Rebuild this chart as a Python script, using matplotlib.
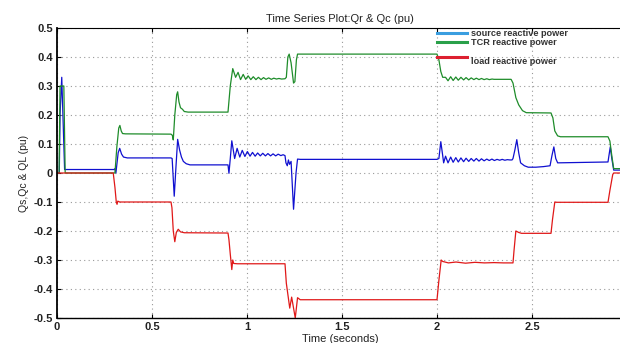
import matplotlib
matplotlib.use("Agg")
import matplotlib.pyplot as plt
from matplotlib.lines import Line2D

# ---------------- data ----------------
t_source = [0, 0.012, 0.016, 0.025, 0.04, 0.045, 0.30, 0.305, 0.31, 0.322, 0.33, 0.34, 0.35, 0.37,
            0.60, 0.606, 0.617, 0.626, 0.635, 0.645, 0.655, 0.665, 0.68, 0.70,
            0.90, 0.905, 0.912, 0.92,
            0.935, 0.948, 0.962, 0.975, 0.989, 1.002, 1.016, 1.029, 1.043, 1.056, 1.07, 1.083,
            1.097, 1.11, 1.124, 1.137, 1.151, 1.164, 1.178, 1.19, 1.2,
            1.205, 1.212, 1.218, 1.224, 1.232, 1.245, 1.258, 1.266, 1.28,
            2.0, 2.01, 2.02, 2.03, 2.035,
            2.045, 2.058, 2.072, 2.085, 2.099, 2.112, 2.126, 2.14, 2.153, 2.167, 2.18, 2.194,
            2.207, 2.221, 2.234, 2.248, 2.262, 2.275, 2.289, 2.302, 2.316, 2.33, 2.343, 2.357,
            2.37, 2.384, 2.395,
            2.40, 2.41, 2.42, 2.43, 2.44, 2.46, 2.48, 2.52, 2.56, 2.595,
            2.605, 2.615, 2.625, 2.635, 2.90, 2.905, 2.912, 2.92, 2.93, 2.97]
q_source = [0, 0, 0.2, 0.33, 0.012, 0.012, 0.012, 0.015, 0.0, 0.07, 0.085, 0.065, 0.055, 0.052,
            0.052, 0.05, -0.08, 0.02, 0.116, 0.08, 0.055, 0.04, 0.032, 0.028,
            0.028, -0.001, 0.05, 0.111,
            0.05, 0.085, 0.055, 0.078, 0.057, 0.074, 0.058, 0.071, 0.058, 0.069, 0.059, 0.068,
            0.059, 0.067, 0.059, 0.066, 0.059, 0.065, 0.06, 0.063, 0.06,
            0.035, 0.025, 0.045, 0.03, 0.04, -0.125, 0.0, 0.048, 0.047,
            0.047, 0.05, 0.108, 0.06, 0.035,
            0.058, 0.035, 0.055, 0.037, 0.053, 0.038, 0.052, 0.039, 0.051, 0.04, 0.05, 0.041,
            0.05, 0.041, 0.049, 0.042, 0.048, 0.043, 0.048, 0.043, 0.047, 0.044, 0.047, 0.044,
            0.046, 0.045, 0.045,
            0.05, 0.08, 0.115, 0.07, 0.035, 0.025, 0.02, 0.02, 0.022, 0.025,
            0.06, 0.09, 0.05, 0.035, 0.038, 0.06, 0.09, 0.05, 0.01, 0.01]

t_tcr = [0, 0.011, 0.016, 0.036, 0.043, 0.305, 0.315, 0.325, 0.331, 0.338, 0.345, 0.36,
         0.60, 0.607, 0.612, 0.62, 0.63, 0.635, 0.642, 0.65, 0.66, 0.67, 0.69,
         0.90, 0.912, 0.925,
         0.94, 0.953, 0.966, 0.98, 0.993, 1.006, 1.02, 1.033, 1.047, 1.06, 1.074, 1.087,
         1.10, 1.114, 1.128, 1.141, 1.155, 1.168, 1.182, 1.2,
         1.207, 1.215, 1.222, 1.232, 1.245, 1.252, 1.26, 1.266, 1.28,
         2.0, 2.01, 2.02, 2.03,
         2.045, 2.058, 2.072, 2.085, 2.099, 2.112, 2.126, 2.14, 2.153, 2.167, 2.18, 2.194,
         2.207, 2.221, 2.234, 2.248, 2.262, 2.275, 2.29, 2.30, 2.39,
         2.40, 2.415, 2.43, 2.45, 2.47, 2.60, 2.61, 2.62, 2.635, 2.65,
         2.90, 2.91, 2.92, 2.93, 2.97]
q_tcr = [0, 0, 0.30, 0.30, 0, 0, 0.09, 0.155, 0.164, 0.145, 0.136, 0.135,
         0.134, 0.13, 0.114, 0.2, 0.27, 0.28, 0.245, 0.225, 0.22, 0.212, 0.21,
         0.21, 0.30, 0.36,
         0.33, 0.347, 0.322, 0.34, 0.323, 0.335, 0.322, 0.332, 0.322, 0.33, 0.322, 0.329,
         0.323, 0.328, 0.323, 0.327, 0.324, 0.326, 0.324, 0.325,
         0.33, 0.40, 0.41, 0.38, 0.31, 0.315, 0.39, 0.41, 0.41,
         0.41, 0.39, 0.35, 0.33,
         0.33, 0.318, 0.332, 0.319, 0.331, 0.32, 0.33, 0.321, 0.329, 0.321, 0.328, 0.322,
         0.327, 0.322, 0.326, 0.322, 0.325, 0.322, 0.324, 0.323, 0.323,
         0.31, 0.26, 0.235, 0.215, 0.208, 0.207, 0.19, 0.145, 0.128, 0.125,
         0.125, 0.11, 0.06, 0.015, 0.015]

t_load = [0, 0.296, 0.305, 0.312, 0.316, 0.32, 0.33,
          0.60, 0.605, 0.612, 0.62, 0.628, 0.638, 0.65, 0.67,
          0.90, 0.905, 0.912, 0.92, 0.925, 0.93, 0.95,
          1.2, 1.207, 1.225, 1.235, 1.254, 1.266, 1.28,
          2.0, 2.01, 2.022, 2.03, 2.06, 2.1, 2.15, 2.2, 2.25, 2.3, 2.35, 2.4,
          2.405, 2.415, 2.43, 2.445, 2.6, 2.608, 2.62, 2.63,
          2.90, 2.91, 2.925, 2.93, 2.97]
q_load = [0, 0, -0.05, -0.1, -0.108, -0.097, -0.1,
          -0.1, -0.12, -0.2, -0.237, -0.205, -0.194, -0.203, -0.206,
          -0.207, -0.23, -0.28, -0.333, -0.30, -0.312, -0.313,
          -0.313, -0.38, -0.466, -0.428, -0.5, -0.43, -0.437,
          -0.437, -0.37, -0.30, -0.305, -0.31, -0.307, -0.311, -0.308, -0.31, -0.309, -0.31, -0.31,
          -0.27, -0.2, -0.205, -0.208, -0.208, -0.16, -0.1, -0.101,
          -0.101, -0.06, -0.005, 0.0, 0.0]

legend_labels = ["source reactive power", "TCR reactive power", "\nload reactive power"]
x_ticks = [0, 0.5, 1, 1.5, 2, 2.5]
x_ticklabels = ["0", "0.5", "1", "1.5", "2", "2.5"]
y_ticks = [0.5, 0.4, 0.3, 0.2, 0.1, 0, -0.1, -0.2, -0.3, -0.4, -0.5]
y_ticklabels = ["0.5", "0.4", "0.3", "0.2", "0.1", "0", "-0.1", "-0.2", "-0.3", "-0.4", "-0.5"]

# ---------------- figure ----------------
plt.rcParams['font.family'] = ['Liberation Sans', 'DejaVu Sans']
fig = plt.figure(figsize=(6.2, 3.43), dpi=100)
fig.patch.set_facecolor('white')
ax = fig.add_axes([57 / 620, 25 / 343, 566 / 620, 290 / 343])

ax.plot(t_source, q_source, color='#1010d0', lw=0.9)
ax.plot(t_tcr, q_tcr, color='#1e8c2a', lw=0.9)
ax.plot(t_load, q_load, color='#e01818', lw=0.9)

ax.set_xlim(0, 566 / 190)
ax.set_ylim(-0.5, 0.5)
ax.set_xticks(x_ticks)
ax.set_xticklabels(x_ticklabels, fontsize=8, fontweight='bold', color='#222222')
ax.set_yticks(y_ticks)
ax.set_yticklabels(y_ticklabels, fontsize=8, fontweight='bold', color='#222222')
ax.tick_params(direction='in', length=3, top=True, right=False, pad=3)
ax.grid(True, linestyle=(0, (1, 3)), color='#999999', lw=0.8)
ax.spines['right'].set_visible(False)
ax.spines['left'].set_linewidth(1.3)
ax.spines['bottom'].set_linewidth(1.0)
ax.spines['top'].set_linewidth(0.8)

ax.set_title("Time Series Plot:Qr & Qc (pu)", fontsize=8, color='#222222', pad=4)
ax.set_xlabel("Time (seconds)", fontsize=8, color='#222222', labelpad=1)
ax.set_ylabel("Qs,Qc & QL (pu)", fontsize=7.5, color='#222222', labelpad=3)

handles = [Line2D([], [], color='#3a9ee0', lw=2.2),
           Line2D([], [], color='#2aa04a', lw=2.2),
           Line2D([], [], color='#dd2030', lw=2.2)]
leg = ax.legend(handles, legend_labels, loc='upper left', bbox_to_anchor=(0.672, 0.997),
                frameon=False, fontsize=6.6, handlelength=3.2, handletextpad=0.45,
                labelspacing=0.0, borderpad=0, borderaxespad=0)
for txt in leg.get_texts():
    txt.set_fontweight('bold')
    txt.set_color('#333333')

fig.savefig("out.png", dpi=100)
